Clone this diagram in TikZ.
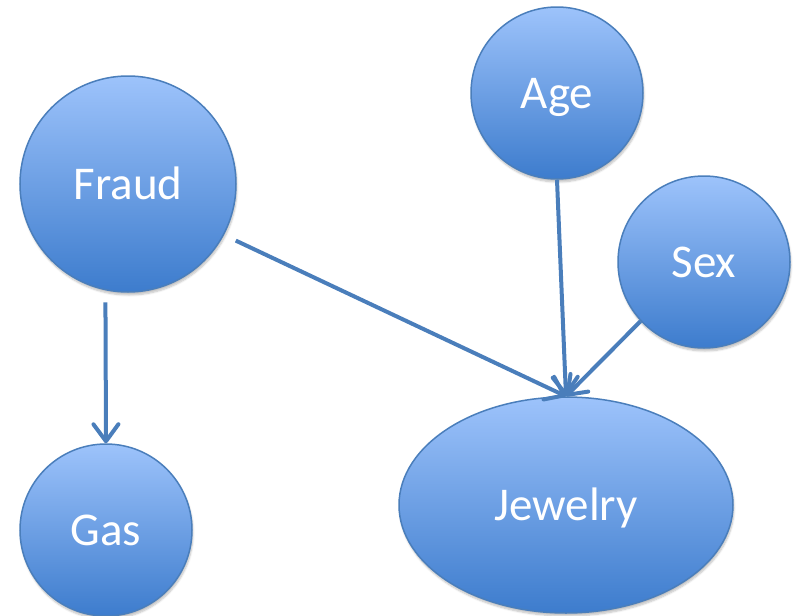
\documentclass[tikz,border=0pt]{standalone}
\usepackage{fontspec}
\setmainfont{Carlito}
\usetikzlibrary{shapes.geometric,arrows.meta,shadows.blur}
\definecolor{nodetop}{HTML}{9DC3FB}
\definecolor{nodebot}{HTML}{3D7CCD}
\definecolor{nodeborder}{HTML}{4A7EBB}
\definecolor{arrowcol}{HTML}{4A7EBB}
\tikzset{
  varnode/.style={circle, draw=nodeborder, line width=1.5pt, top color=nodetop, bottom color=nodebot,
    text=white, font=\fontsize{47}{50}\selectfont, inner sep=0pt, text height=30pt, text depth=0pt,
    blur shadow={shadow blur steps=6, shadow xshift=1pt, shadow yshift=-3pt, shadow opacity=25}},
  arr/.style={draw=arrowcol, line width=4pt, -{Straight Barb[length=17pt,width=25pt,round]}}
}
\begin{document}
\begin{tikzpicture}[x=1pt,y=-1pt]
\useasboundingbox (0,0) rectangle (796,616);
\node[varnode, minimum size=216pt] (fraud) at (128,184) {Fraud};
\node[varnode, minimum size=172pt] (age) at (557,93) {Age};
\node[varnode, minimum size=172pt] (sex) at (704,262) {Sex};
\node[varnode, minimum size=172pt] (gas) at (106,530) {Gas};
\node[varnode, ellipse, minimum width=334pt, minimum height=216pt] (jewelry) at (566,505) {Jewelry};
\draw[arr, shorten <=12pt] (fraud.-102) -- (gas.north);
\draw[arr, shorten <=13pt] (fraud.-28) -- (jewelry.north);
\draw[arr] (age.south) -- (jewelry.north);
\draw[arr] (sex.223) -- (jewelry.north);
\end{tikzpicture}
\end{document}
